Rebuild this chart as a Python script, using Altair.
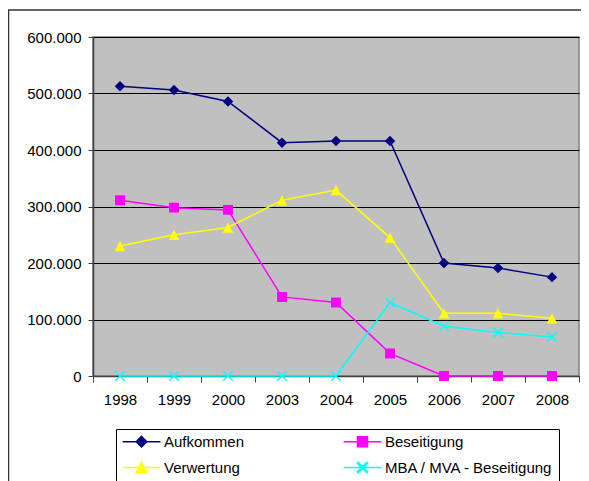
import altair as alt
import pandas as pd

years = ["1998", "1999", "2000", "2003", "2004", "2005", "2006", "2007", "2008"]
series = ["Aufkommen", "Beseitigung", "Verwertung", "MBA / MVA - Beseitigung"]
aufkommen = [513000, 506000, 486000, 413000, 416000, 416000, 200000, 191000, 175000]
beseitigung = [311000, 298000, 294000, 140000, 130000, 40000, 0, 0, 0]
verwertung = [230000, 250000, 263000, 311000, 329000, 245000, 111000, 111000, 102000]
mba_mva = [0, 0, 0, 0, 0, 130000, 88000, 77000, 69000]
y_ticks = [0, 100000, 200000, 300000, 400000, 500000, 600000]

colors = ["#000080", "#FF00FF", "#FFFF00", "#00FFFF"]
# marker outlines (unit box -1..1) preceded by a horizontal stroke that only
# becomes visible where the symbol is stroked (the legend)
LINE = "M-3.6,0L3.6,0"
shapes = [
    LINE + "M0,-1L1,0L0,1L-1,0Z",
    LINE + "M-0.95,-0.95L0.95,-0.95L0.95,0.95L-0.95,0.95Z",
    LINE + "M0,-1L1,1L-1,1Z",
    LINE + "M-0.83,-1L0,-0.17L0.83,-1L1,-0.83L0.17,0L1,0.83L0.83,1L0,0.17L-0.83,1L-1,0.83L-0.17,0L-1,-0.83Z",
]

rows = []
for name, vals in zip(series, [aufkommen, beseitigung, verwertung, mba_mva]):
    for yr, v in zip(years, vals):
        rows.append({"Jahr": yr, "Serie": name, "Wert": v})
df = pd.DataFrame(rows)

FONT = "Liberation Sans"

leg = alt.Legend(
    title=None,
    orient="none",
    direction="horizontal",
    legendX=23,
    legendY=392,
    columns=2,
    gridAlign="all",
    columnPadding=7,
    rowPadding=9,
    padding=5,
    strokeColor="black",
    fillColor="white",
    labelFont=FONT,
    labelFontSize=15,
    labelColor="black",
    labelLimit=300,
    symbolSize=110,
    symbolStrokeWidth=1.5,
    symbolOffset=13,
    labelOffset=15,
)

x_enc = alt.X(
    "Jahr:N",
    sort=years,
    scale=alt.Scale(domain=years, paddingInner=0, paddingOuter=0),
    axis=alt.Axis(
        title=None,
        labelAngle=0,
        tickBand="extent",
        tickSize=6,
        labelPadding=10,
        labelFont=FONT,
        labelFontSize=15,
        labelColor="black",
        domainColor="#404040",
        domainWidth=1.5,
        tickColor="#404040",
        grid=False,
    ),
)
y_enc = alt.Y(
    "Wert:Q",
    scale=alt.Scale(domain=[0, 600000], nice=False),
    axis=alt.Axis(
        title=None,
        values=y_ticks,
        labelExpr="replace(format(datum.value, ','), ',', '.')",
        labelFont=FONT,
        labelFontSize=15,
        labelColor="black",
        labelPadding=7,
        tickSize=5,
        tickColor="#404040",
        domainColor="#404040",
        domainWidth=1.5,
        grid=True,
        gridColor="black",
        gridWidth=1,
    ),
)

base = alt.Chart(df)
lines = base.mark_line(strokeWidth=1.5).encode(
    x=x_enc,
    y=y_enc,
    stroke=alt.Stroke("Serie:N", scale=alt.Scale(domain=series, range=colors), legend=leg),
)
points = base.mark_point(filled=True, size=110, opacity=1).encode(
    x=x_enc,
    y=y_enc,
    fill=alt.Fill("Serie:N", scale=alt.Scale(domain=series, range=colors), legend=leg),
    shape=alt.Shape("Serie:N", scale=alt.Scale(domain=series, range=shapes), legend=leg),
)

frame_df = pd.DataFrame({"a": [0]})
frame_left = alt.Chart(frame_df).mark_rule(color="#333333", strokeWidth=1.5).encode(
    x=alt.value(-84.5), y=alt.value(-27), y2=alt.value(450)
)
frame_top = alt.Chart(frame_df).mark_rule(color="#333333", strokeWidth=1.5).encode(
    x=alt.value(-85), x2=alt.value(500), y=alt.value(-27)
)

chart = (
    alt.layer(frame_left, frame_top, lines, points)
    .properties(
        width=486,
        height=339,
        autosize=alt.AutoSizeParams(type="none"),
        padding={"left": 85, "top": 29, "right": 2, "bottom": 105},
        background="white",
    )
    .configure_view(fill="#C0C0C0", stroke="#808080", strokeWidth=1.5)
)

chart.save("out.html", embed_options={"renderer": "svg", "actions": False})
